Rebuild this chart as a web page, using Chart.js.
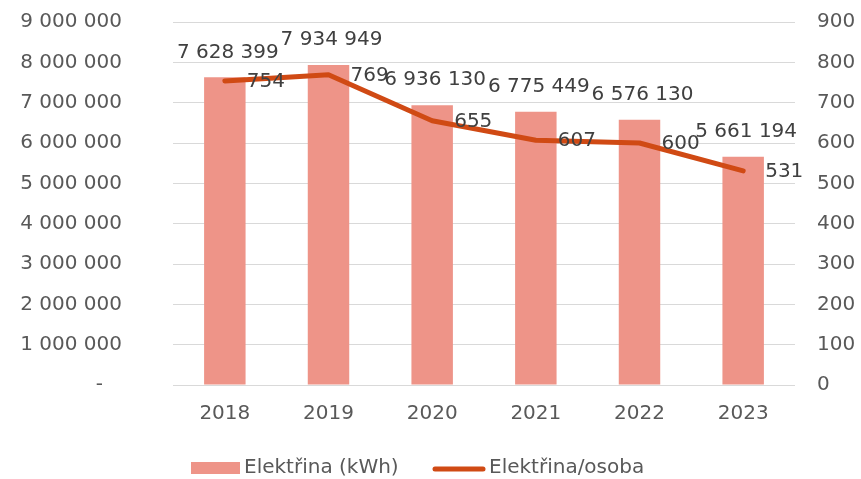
<!DOCTYPE html>
<html>
<head>
<meta charset="utf-8">
<script src="https://cdn.jsdelivr.net/npm/chart.js@4.4.1/dist/chart.umd.min.js"></script>
<style>
  html, body { margin: 0; padding: 0; background: #ffffff; }
  #wrap { width: 861px; height: 479px; position: relative; }
</style>
</head>
<body>
<div id="wrap"><canvas id="c" width="861" height="479"></canvas></div>
<script>
const categories = ['2018', '2019', '2020', '2021', '2022', '2023'];
const electricityKWh = [7628399, 7934949, 6936130, 6775449, 6576130, 5661194];
const electricityPerPerson = [754, 769, 655, 607, 600, 531];
const leftTicks = [0, 1000000, 2000000, 3000000, 4000000, 5000000, 6000000, 7000000, 8000000, 9000000];
const rightTicks = [0, 100, 200, 300, 400, 500, 600, 700, 800, 900];
const seriesNames = ['Elektřina (kWh)', 'Elektřina/osoba'];

const FONT = '"DejaVu Sans", sans-serif';
const FS = 20;
const TXT = '#595959';
const LBL = '#404040';
const BAR = '#EE9488';
const LINE = '#D04A14';

function fmt(v) {
  return String(Math.round(v)).replace(/\B(?=(\d{3})+(?!\d))/g, ' ');
}

const labelPlugin = {
  id: 'labels',
  afterDatasetsDraw(chart) {
    const ctx = chart.ctx;
    ctx.save();
    ctx.font = FS + 'px ' + FONT;
    ctx.fillStyle = LBL;
    ctx.textBaseline = 'middle';
    const barMeta = chart.getDatasetMeta(0);
    ctx.textAlign = 'center';
    barMeta.data.forEach((el, i) => {
      ctx.fillText(fmt(electricityKWh[i]), el.x + 3, el.y - 25);
    });
    const lineMeta = chart.getDatasetMeta(1);
    ctx.textAlign = 'left';
    lineMeta.data.forEach((el, i) => {
      ctx.fillText(String(electricityPerPerson[i]), el.x + 22, el.y + 1);
    });
    ctx.restore();
  },
  afterDraw(chart) {
    const ctx = chart.ctx;
    ctx.save();
    ctx.font = FS + 'px ' + FONT;
    ctx.fillStyle = TXT;
    ctx.textBaseline = 'middle';
    ctx.textAlign = 'left';
    const y = 468;
    ctx.fillStyle = BAR;
    ctx.fillRect(191, y - 6, 49, 12);
    ctx.fillStyle = TXT;
    ctx.fillText(seriesNames[0], 244, y);
    ctx.strokeStyle = LINE;
    ctx.lineWidth = 5;
    ctx.lineCap = 'round';
    ctx.beginPath();
    ctx.moveTo(435, y + 1);
    ctx.lineTo(483, y + 1);
    ctx.stroke();
    ctx.fillText(seriesNames[1], 489, y);
    ctx.restore();
  }
};

new Chart(document.getElementById('c'), {
  type: 'bar',
  data: {
    labels: categories,
    datasets: [
      {
        type: 'bar',
        label: seriesNames[0],
        data: electricityKWh,
        backgroundColor: BAR,
        yAxisID: 'y',
        barPercentage: 0.8,
        categoryPercentage: 0.5,
        order: 2
      },
      {
        type: 'line',
        label: seriesNames[1],
        data: electricityPerPerson,
        borderColor: LINE,
        backgroundColor: LINE,
        borderWidth: 5,
        borderCapStyle: 'round',
        borderJoinStyle: 'round',
        pointRadius: 0,
        tension: 0,
        yAxisID: 'y1',
        order: 1
      }
    ]
  },
  options: {
    responsive: false,
    animation: false,
    layout: { padding: { top: 22, bottom: 0, left: 0, right: 0 } },
    plugins: {
      legend: { display: false },
      tooltip: { enabled: false }
    },
    scales: {
      x: {
        grid: { display: false, drawTicks: false },
        border: { display: false },
        ticks: { color: TXT, font: { family: FONT, size: FS }, padding: 17 },
        afterFit(s) { s.height = 94; }
      },
      y: {
        position: 'left',
        min: 0, max: 9000000,
        afterBuildTicks(s) { s.ticks = leftTicks.map(v => ({ value: v })); },
        grid: { color: '#D9D9D9', lineWidth: 1, drawTicks: false },
        border: { display: false },
        ticks: {
          color: TXT, font: { family: FONT, size: FS }, padding: 51,
          callback: v => v === 0 ? '-   ' : fmt(v)
        },
        afterFit(s) { s.width = 173; s.paddingTop = 12; s.paddingBottom = 12; }
      },
      y1: {
        position: 'right',
        min: 0, max: 900,
        afterBuildTicks(s) { s.ticks = rightTicks.map(v => ({ value: v })); },
        grid: { display: false, drawTicks: false },
        border: { display: false },
        ticks: { color: TXT, font: { family: FONT, size: FS }, padding: 22, callback: v => String(v) },
        afterFit(s) { s.width = 66; s.paddingTop = 12; s.paddingBottom = 12; }
      }
    }
  },
  plugins: [labelPlugin]
});
</script>
</body>
</html>
